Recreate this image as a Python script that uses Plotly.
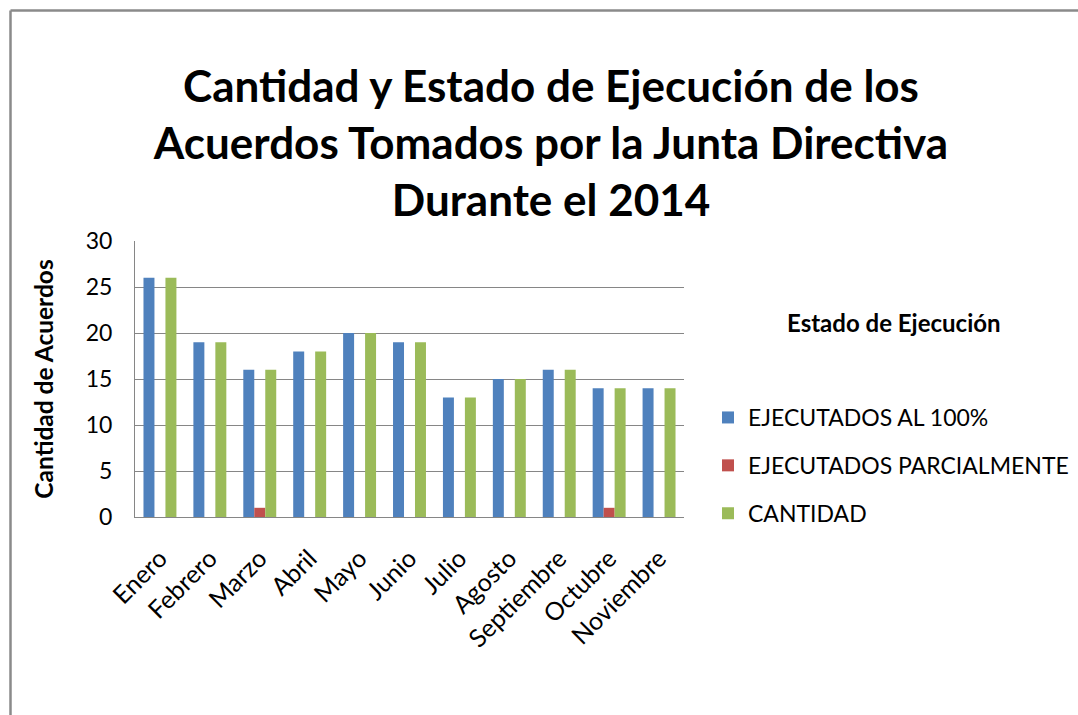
import plotly.graph_objects as go

months = ["Enero", "Febrero", "Marzo", "Abril", "Mayo", "Junio", "Julio",
          "Agosto", "Septiembre", "Octubre", "Noviembre"]
ejecutados_100 = [26, 19, 16, 18, 20, 19, 13, 15, 16, 14, 14]
ejecutados_parcial = [0, 0, 1, 0, 0, 0, 0, 0, 0, 1, 0]
cantidad = [26, 19, 16, 18, 20, 19, 13, 15, 16, 14, 14]

series_names = ["EJECUTADOS AL 100%", "EJECUTADOS PARCIALMENTE", "CANTIDAD"]
series_colors = ["#4F81BD", "#C0504D", "#9BBB59"]
series_values = [ejecutados_100, ejecutados_parcial, cantidad]

FONT = "Lato"
W, H = 1078, 715
ML, MR, MT, MB = 135, 394, 241, 198
PW, PH = W - ML - MR, H - MT - MB

fig = go.Figure()
for name, color, vals in zip(series_names, series_colors, series_values):
    fig.add_trace(go.Bar(
        x=months, y=vals, name=name, legendgroup=name,
        marker=dict(color=color, line=dict(width=0)),
    ))

def px_x(px):
    return (px - ML) / PW

def px_y(py):
    return (H - MB - py) / PH

border = "#8a8a8a"
fig.add_shape(type="line", xref="paper", yref="paper",
              x0=px_x(10.5), x1=px_x(1085), y0=px_y(10.5), y1=px_y(10.5),
              line=dict(color=border, width=2.5))
fig.add_shape(type="line", xref="paper", yref="paper",
              x0=px_x(10.5), x1=px_x(10.5), y0=px_y(10.5), y1=px_y(720),
              line=dict(color=border, width=2.5))

fig.add_annotation(text="<b>Estado de Ejecución</b>", xref="paper", yref="paper",
                   x=px_x(894), y=px_y(322), xanchor="center", yanchor="middle",
                   showarrow=False, font=dict(family=FONT, size=24, color="#000000"))

fig.update_layout(
    width=W, height=H,
    margin=dict(l=ML, r=MR, t=MT, b=MB, autoexpand=False),
    paper_bgcolor="white", plot_bgcolor="white",
    font=dict(family=FONT, color="#000000"),
    title=dict(
        text="<b>Cantidad y Estado de Ejecución de los<br>Acuerdos Tomados por la Junta Directiva<br>Durante el 2014</b>",
        x=551 / W, xanchor="center", xref="container",
        y=1 - 102 / H, yanchor="middle", yref="container",
        font=dict(family=FONT, size=44, color="#000000"),
    ),
    barmode="group", bargap=0.34, bargroupgap=0,
    legend=dict(
        x=px_x(708), y=px_y(396), xanchor="left", yanchor="top",
        font=dict(family=FONT, size=23, color="#000000"),
        traceorder="grouped", tracegroupgap=15,
        bgcolor="rgba(0,0,0,0)",
    ),
    xaxis=dict(
        showgrid=False, showline=True, linecolor="#868686", linewidth=1,
        tickangle=-45, tickfont=dict(family=FONT, size=25, color="#000000"),
        ticks="", ticklabelstandoff=16,
    ),
    yaxis=dict(
        range=[0, 30], dtick=5, showgrid=True, gridcolor="#868686", gridwidth=1,
        showline=True, linecolor="#868686", linewidth=1, zeroline=False,
        ticks="", tickfont=dict(family=FONT, size=23, color="#000000"),
        ticklabelstandoff=17,
        title=dict(text="<b>Cantidad de Acuerdos</b>", standoff=25,
                   font=dict(family=FONT, size=24.5, color="#000000")),
    ),
)

fig.write_html("out.html", config={"displayModeBar": False},
               post_script="document.body.style.margin='0';")
